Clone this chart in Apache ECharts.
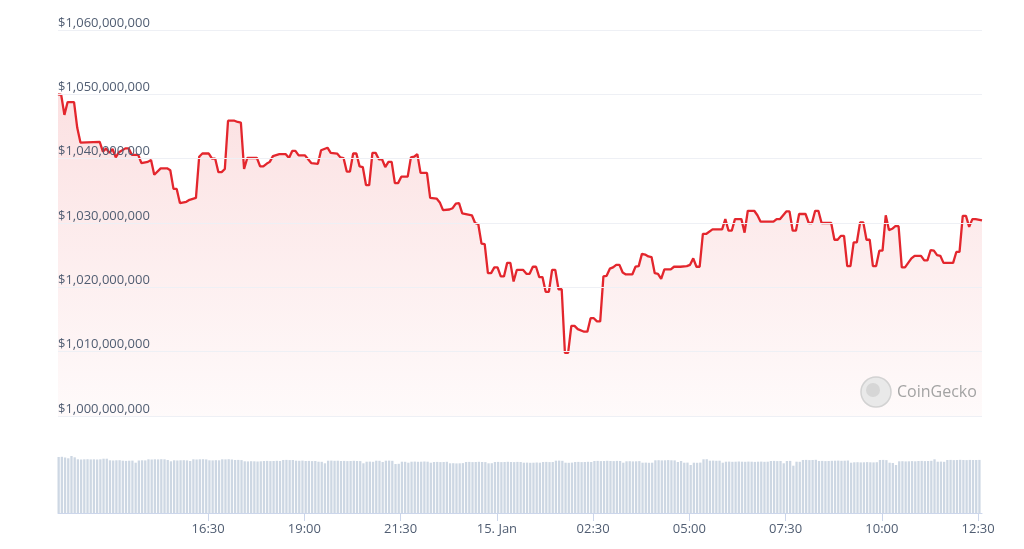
<!DOCTYPE html>
<html><head><meta charset="utf-8">
<script src="https://cdn.jsdelivr.net/npm/echarts@6/dist/echarts.min.js"></script>
<style>html,body{margin:0;padding:0;background:#fff}#c{width:1024px;height:549px}</style>
</head><body><div id="c"></div>
<script>
// Time origin: 14 Jan 12:36; offsets in minutes
const START_CLOCK = '12:36';
const priceMinutes = [0,5,10,15,25,30,35,65,70,75,80,85,90,95,105,110,115,125,130,140,145,150,160,170,175,180,185,190,200,205,215,220,225,235,240,245,250,255,260,265,275,280,285,290,295,310,315,320,325,330,335,345,355,360,365,370,375,385,395,405,410,420,425,435,440,445,450,455,460,465,470,475,480,485,490,495,500,505,510,515,520,525,530,535,545,550,555,560,565,575,580,590,595,600,610,615,620,625,630,645,650,655,660,665,670,675,680,685,690,695,700,705,710,715,725,730,735,740,745,750,755,760,765,770,775,780,785,790,795,800,805,810,820,825,830,835,840,845,850,855,860,865,870,875,880,885,895,900,905,910,915,920,925,930,935,940,945,955,960,970,980,985,990,995,1000,1005,1010,1020,1035,1040,1045,1050,1055,1065,1070,1075,1085,1090,1095,1115,1120,1125,1135,1140,1145,1150,1155,1165,1170,1175,1180,1185,1190,1205,1210,1215,1220,1225,1230,1235,1240,1245,1250,1255,1260,1265,1270,1275,1280,1285,1290,1295,1300,1305,1310,1315,1320,1330,1335,1345,1350,1355,1360,1365,1370,1375,1380,1395,1400,1405,1410,1415,1420,1425,1430,1440];
// Market cap in millions of USD
const priceValues = [1050.0,1049.9,1046.8,1048.8,1048.8,1044.8,1042.5,1042.6,1041.1,1041.6,1040.9,1041.5,1040.2,1041.0,1041.6,1041.6,1040.6,1040.6,1039.3,1039.5,1039.8,1037.5,1038.5,1038.5,1038.2,1035.3,1035.3,1033.1,1033.3,1033.6,1033.9,1040.3,1040.8,1040.8,1040.0,1040.0,1037.9,1037.9,1038.4,1045.9,1045.9,1045.7,1045.6,1038.4,1040.1,1040.1,1038.8,1038.8,1039.2,1039.5,1040.4,1040.7,1040.7,1040.1,1041.2,1041.2,1040.5,1040.5,1039.3,1039.2,1041.3,1041.7,1040.9,1040.8,1040.2,1040.1,1038.0,1038.0,1040.8,1040.8,1038.8,1038.7,1035.9,1035.9,1040.9,1040.9,1039.9,1039.9,1038.7,1039.5,1039.5,1036.2,1036.2,1037.2,1037.2,1040.2,1040.3,1040.7,1037.8,1037.8,1033.9,1033.8,1033.2,1032.0,1032.1,1032.3,1033.0,1033.1,1031.5,1031.2,1030.0,1029.8,1026.8,1026.7,1022.2,1022.2,1023.1,1023.1,1021.7,1021.7,1023.8,1023.8,1020.9,1022.7,1022.7,1022.1,1022.1,1023.2,1023.2,1021.6,1021.6,1019.3,1019.3,1022.7,1022.7,1019.7,1019.7,1009.8,1009.8,1014.0,1014.0,1013.5,1013.1,1013.1,1015.2,1015.2,1014.7,1014.7,1021.7,1021.8,1022.9,1023.1,1023.5,1023.5,1022.3,1022.0,1022.0,1023.2,1023.3,1025.2,1025.1,1024.8,1024.7,1022.2,1022.1,1021.3,1022.8,1022.8,1023.2,1023.2,1023.3,1023.5,1024.5,1023.2,1023.2,1028.3,1028.3,1029.0,1029.0,1030.6,1028.8,1028.8,1030.6,1030.6,1028.5,1031.9,1031.9,1031.2,1030.2,1030.2,1030.6,1030.6,1031.8,1031.8,1028.8,1028.8,1031.4,1031.4,1030.0,1030.0,1031.9,1031.9,1030.0,1030.0,1027.4,1027.4,1028.0,1028.0,1023.3,1023.3,1027.0,1027.0,1030.1,1030.1,1027.4,1027.4,1023.3,1023.3,1025.7,1025.7,1031.2,1028.9,1029.1,1029.5,1029.5,1023.1,1023.1,1024.5,1024.9,1024.9,1024.2,1024.2,1025.8,1025.7,1025.0,1024.9,1023.8,1023.8,1025.5,1025.5,1031.1,1031.1,1029.4,1030.6,1030.6,1030.4];
// Volume (relative units), one bar per 5 minutes
const volumeValues = [
56.0,56.2,55.5,54.7,57.0,55.7,53.7,53.5,53.7,53.8,53.6,53.7,53.5,53.7,54.3,54.3,52.7,52.5,52.7,52.8,52.3,52.1,52.3,52.4,50.3,52.5,52.7,52.6,53.7,53.5,53.7,53.6,53.8,53.7,53.0,51.7,52.7,52.5,52.7,52.8,52.6,52.0,53.7,53.5,53.7,53.8,53.6,52.7,52.6,52.8,52.7,53.7,53.6,53.8,53.5,53.0,53.1,52.9,51.7,51.6,51.8,51.7,51.5,51.7,52.0,52.1,51.9,52.0,52.2,52.0,53.0,53.1,52.9,53.0,52.3,52.2,52.4,52.0,52.1,51.9,52.0,51.3,51.2,49.7,52.3,52.4,52.2,52.3,
52.0,52.1,51.9,52.0,52.2,52.0,51.9,49.7,51.3,51.4,51.2,52.3,52.2,51.0,52.3,52.4,52.2,49.0,49.2,51.3,51.2,50.3,51.3,51.4,51.2,51.3,51.5,51.3,50.3,51.0,51.1,50.9,51.0,51.2,49.7,49.8,49.6,49.7,49.9,51.0,51.1,50.9,51.0,51.2,51.0,50.9,49.7,49.8,51.0,51.1,50.9,51.0,51.2,51.0,50.9,51.1,51.0,50.3,50.4,50.2,50.3,50.5,50.3,51.0,51.1,50.9,51.0,52.3,52.4,52.2,50.3,50.2,50.4,51.0,51.1,50.9,51.0,51.2,51.0,52.0,52.1,51.9,52.0,52.2,52.0,51.9,52.1,52.0,50.3,51.7,51.8,51.6,51.7,51.9,50.3,50.4,50.2,50.3,52.7,52.8,52.6,52.7,52.9,52.7,52.6,51.0,
52.0,50.3,50.4,48.0,50.3,50.2,50.4,53.7,53.8,52.3,52.4,52.2,52.3,50.3,51.3,51.4,51.2,51.3,51.5,51.3,51.2,51.4,51.3,51.1,51.3,51.4,51.2,51.3,52.0,52.1,51.9,52.0,49.7,52.0,52.1,47.3,51.3,51.2,53.0,53.1,52.9,53.0,53.2,52.0,52.1,51.9,52.0,52.2,52.3,52.4,52.2,52.3,52.5,50.3,50.7,50.8,50.6,50.7,50.9,50.7,50.6,50.8,53.0,53.1,52.9,50.3,50.0,48.0,51.7,51.8,51.6,51.7,51.9,51.7,52.0,52.1,51.9,52.0,52.2,53.7,51.3,51.4,51.2,53.0,53.1,52.9,53.0,53.2,53.0,52.9,53.1,53.0,53.0,53.1];
const tickTimes = ['16:30','19:00','21:30','00:00','02:30','05:00','07:30','10:00','12:30'];
const tickLabels = ['16:30','19:00','21:30','15. Jan','02:30','05:00','07:30','10:00','12:30'];
const watermarkText = 'CoinGecko';

function clockToMin(t){const p=t.split(':').map(Number);return p[0]*60+p[1];}
const startMin = clockToMin(START_CLOCK);
const tickValues = tickTimes.map(t=>{let o=clockToMin(t)-startMin;if(o<0)o+=1440;return o;});

const FONT = "'Open Sans', 'Liberation Sans', sans-serif";
const TXT = '#505d72';
const chart = echarts.init(document.getElementById('c'), null, {renderer:'canvas'});
chart.setOption({
  animation:false,
  backgroundColor:'#ffffff',
  grid:[
    {left:58,right:42,top:30,bottom:133},
    {left:58,right:42,top:448,bottom:36}
  ],
  xAxis:[
    {gridIndex:0,type:'value',min:0,max:1440,show:false},
    {gridIndex:1,type:'value',min:0,max:1440,
      axisLine:{show:true,lineStyle:{color:'#ccd6eb',width:1}},
      axisTick:{show:true,customValues:tickValues,length:8,lineStyle:{color:'#ccd6eb'}},
      axisLabel:{customValues:tickValues,formatter:v=>{const i=tickValues.indexOf(v);return i>=0?tickLabels[i]:'';},
        color:TXT,fontSize:13,fontFamily:FONT,margin:10},
      splitLine:{show:false}}
  ],
  yAxis:[
    {gridIndex:0,type:'value',min:1000,max:1060,interval:10,z:5,
      axisLine:{show:false},axisTick:{show:false},
      axisLabel:{inside:true,margin:0,verticalAlign:'bottom',lineHeight:14,color:TXT,fontSize:13,fontFamily:FONT,
        formatter:v=>'$'+(v*1e6).toLocaleString('en-US')},
      splitLine:{lineStyle:{color:'#eef0f5',width:1}}},
    {gridIndex:1,type:'value',min:0,max:65,show:false}
  ],
  series:[
    {type:'line',xAxisIndex:0,yAxisIndex:0,
      data:priceMinutes.map((m,i)=>[m,priceValues[i]]),
      showSymbol:false,symbol:'none',
      lineStyle:{color:'#e3262d',width:2.3},
      itemStyle:{color:'#e3262d'},
      areaStyle:{origin:'start',color:new echarts.graphic.LinearGradient(0,0,0,1,[
        {offset:0,color:'rgba(229,38,45,0.20)'},{offset:1,color:'rgba(229,38,45,0.03)'}])},
      z:3},
    {type:'bar',xAxisIndex:1,yAxisIndex:1,
      data:volumeValues.map((v,i)=>[i*5+1,v]),
      barWidth:2.3,itemStyle:{color:'#cdd7e3'}}
  ],
  graphic:[
    {type:'circle',shape:{cx:876,cy:392,r:15},style:{fill:'#e9e9e9',stroke:'#d2d2d2',lineWidth:1.5},z:10},
    {type:'circle',shape:{cx:873,cy:390,r:7},style:{fill:'#d6d6d6'},z:11},
    {type:'text',x:897,y:392,style:{text:watermarkText,fill:'#a3a3a3',font:"16px "+FONT,verticalAlign:'middle'},z:10}
  ]
});
</script></body></html>
